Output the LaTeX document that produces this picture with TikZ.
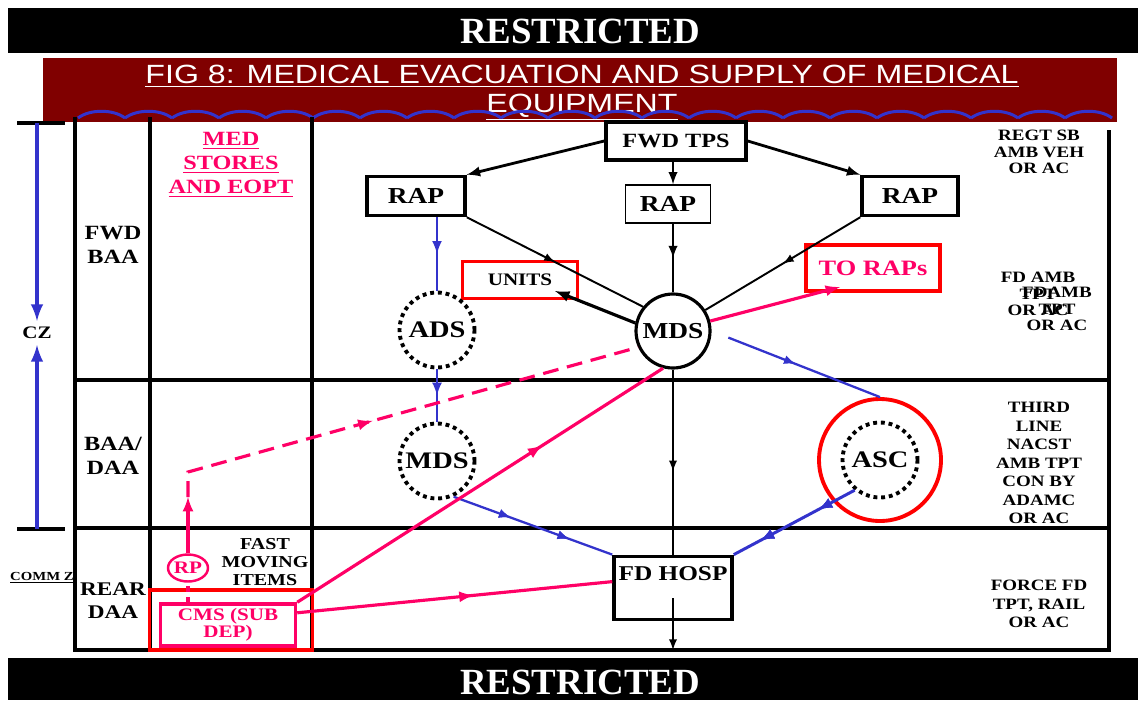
\documentclass[tikz,border=0pt]{standalone}
\usepackage{fontspec}
\setmainfont[FakeStretch=1.2]{Liberation Serif}
\newfontfamily\bannerfont{Liberation Serif}
\newfontfamily\titlefont[FakeStretch=1.22]{Liberation Sans}
\usepackage{tikz}
\usetikzlibrary{shapes,arrows,positioning,decorations.markings}
\definecolor{bannerred}{RGB}{128,0,0}
\definecolor{medpink}{RGB}{255,0,102}
\definecolor{evacblue}{RGB}{51,51,204}
\tikzstyle{tabline} = [line width=2.3pt]
\tikzstyle{banner} = [text=white, font=\bannerfont\bfseries\fontsize{21}{23}\selectfont]
\tikzstyle{figtitle} = [text=white, align=center, font=\titlefont\fontsize{15}{16}\selectfont]
\tikzstyle{bigbox} = [draw, line width=2pt, rectangle, inner sep=2pt, font=\bfseries\fontsize{13}{15}\selectfont]
\tikzstyle{thinbox} = [draw, line width=0.8pt, rectangle, inner sep=2pt, font=\bfseries\fontsize{13}{15}\selectfont]
\tikzstyle{redbox} = [draw=red, line width=2pt, rectangle, inner sep=2pt]
\tikzstyle{mdscircle} = [draw, circle, line width=1.8pt, minimum size=1.48cm, inner sep=0pt, font=\bfseries\fontsize{13}{15}\selectfont]
\tikzstyle{dotcircle} = [draw, circle, line width=2.2pt, dash pattern=on 2.2pt off 2.2pt, minimum size=1.5cm, inner sep=0pt, font=\bfseries\fontsize{13.5}{15}\selectfont]
\tikzstyle{rowlabel} = [align=center, font=\bfseries\fontsize{11.5}{13.6}\selectfont]
\tikzstyle{note} = [align=center, font=\bfseries\fontsize{9}{9.4}\selectfont]
\tikzstyle{evac} = [line width=1.1pt]
\tikzstyle{bluepath} = [evacblue, line width=1.3pt]
\tikzstyle{supply} = [medpink, line width=1.8pt]
\tikzstyle{czarrow} = [evacblue, line width=2.2pt, -latex]
\tikzstyle{wave} = [evacblue, line width=1.7pt]
\tikzset{midarrow/.style={postaction={decorate}, decoration={markings, mark=at position #1 with {\arrow{latex}}}},
  midarrow/.default=0.5}
\begin{document}
\begin{tikzpicture}[x=0.02cm, y=-0.02cm]
\useasboundingbox (0,0) rectangle (1138,700);
% banners
\fill[black] (8,8) rectangle (1138,53);
\node[banner] (toprestr) at (580,31) {RESTRICTED};
\fill[bannerred] (43,58) rectangle (1117,122);
\node[figtitle] (title) at (582,93) {\underline{FIG 8: MEDICAL EVACUATION AND SUPPLY OF MEDICAL}\\\underline{EQUIPMENT}};
\foreach \i in {0,...,21}
  \draw[wave] ({78+47*\i},118) .. controls ({90+47*\i},109) and ({113+47*\i},109) .. ({125+47*\i},118);
\fill[black] (8,658) rectangle (1138,700);
\node[banner] (botrestr) at (580,682) {RESTRICTED};
% table
\draw[tabline] (75,117) -- (75,651);
\draw[tabline] (150,117) -- (150,651);
\draw[tabline] (312,117) -- (312,651);
\draw[tabline] (1109,130) -- (1109,651);
\draw[tabline] (75,380) -- (1109,380);
\draw[tabline] (75,528) -- (1109,528);
\draw[tabline] (73,650) -- (1111,650);
% comm zone
\draw[tabline] (17,123) -- (65,123);
\draw[tabline] (17,529) -- (65,529);
\coordinate (cztop) at (37,123);
\coordinate (czbot) at (37,529);
\node[font=\bfseries\fontsize{10}{12}\selectfont] (cz) at (37,333) {CZ};
\draw[czarrow] (cztop) -- (cz.north);
\draw[czarrow] (czbot) -- (cz.south);
\node[font=\bfseries\fontsize{7}{8}\selectfont] (commz) at (42,578) {\underline{COMM Z}};
% row labels
\node[rowlabel] (fwdbaa) at (113,245) {FWD\\BAA};
\node[rowlabel] (baadaa) at (113,456) {BAA/\\DAA};
\node[rowlabel, font=\bfseries\fontsize{11}{13}\selectfont] (reardaa) at (113,601) {REAR\\DAA};
\node[rowlabel, text=medpink] (medstores) at (231,165) {\underline{MED}\\\underline{STORES}\\\underline{AND EOPT}};
\node[note, font=\bfseries\fontsize{9.5}{10}\selectfont] (fastitems) at (265,562) {FAST\\MOVING\\ITEMS};
% transport notes
\node[note] (regtsb) at (1039,152) {REGT SB\\AMB VEH\\OR AC};
\node[note] (fdamb) at (1038,294) {FD AMB\\TPT\\OR AC};
\node[note] (fdambb) at (1057,309) {FDAMB\\TPT\\OR AC};
\node[note, font=\bfseries\fontsize{9}{10.5}\selectfont] (thirdline) at (1039,463) {THIRD\\LINE\\NACST\\AMB TPT\\CON BY\\ADAMC\\OR AC};
\node[note, font=\bfseries\fontsize{9}{10.5}\selectfont] (forcefd) at (1039,604) {FORCE FD\\TPT, RAIL\\OR AC};
% posts
\node[bigbox, minimum width=2.8cm, minimum height=0.76cm, font=\bfseries\fontsize{11.5}{13}\selectfont] (fwdtps) at (676,141) {FWD TPS};
\node[bigbox, minimum width=1.96cm, minimum height=0.78cm] (rapl) at (416,196) {RAP};
\node[thinbox, minimum width=1.7cm, minimum height=0.76cm] (rapc) at (668,204) {RAP};
\node[bigbox, minimum width=1.92cm, minimum height=0.78cm] (rapr) at (910,196) {RAP};
\node[redbox, minimum width=2.3cm, minimum height=0.74cm, font=\bfseries\fontsize{10}{12}\selectfont] (units) at (520,280) {UNITS};
\node[redbox, text=medpink, minimum width=2.68cm, minimum height=0.92cm, font=\bfseries\fontsize{12.5}{14}\selectfont] (torap) at (873,268) {TO RAPs};
\node[mdscircle] (mdsf) at (673,331) {MDS};
\node[dotcircle] (ads) at (437,330) {ADS};
\node[dotcircle] (mdsb) at (437,461) {MDS};
\node[draw=red, circle, line width=2.2pt, minimum size=2.44cm] (ascring) at (880,460) {};
\node[dotcircle] (asc) at (880,460) {ASC};
\node[bigbox, minimum width=2.36cm, minimum height=1.26cm, inner ysep=5pt, text height=9pt, text depth=17pt, font=\bfseries\fontsize{12}{14}\selectfont] (fdhosp) at (673,588) {FD HOSP};
\node[redbox, line width=2.2pt, minimum width=3.26cm, minimum height=1.2cm] (cmsframe) at (231,620) {};
\node[draw=medpink, line width=2pt, text=medpink, align=center, minimum width=2.7cm, minimum height=0.84cm, inner sep=1pt, font=\bfseries\fontsize{10}{9.5}\selectfont] (cms) at (228,625) {CMS (SUB\\DEP)};
\node[draw=medpink, ellipse, line width=1.4pt, text=medpink, minimum width=0.8cm, minimum height=0.54cm, inner sep=0pt, font=\bfseries\fontsize{10}{12}\selectfont] (rp) at (188,568) {RP};
% evacuation
\draw[-latex, line width=1.6pt] (fwdtps.west) -- (rapl.north east);
\draw[-latex, line width=1.4pt] (fwdtps.south -| mdsf.north) -- (rapc.north -| mdsf.north);
\draw[-latex, line width=1.6pt] (fwdtps.east) -- (rapr.north west);
\draw[evac, midarrow] (rapl.south east) -- (mdsf.141);
\draw[evac, line width=1.4pt, midarrow] (rapc.south -| mdsf.north) -- (mdsf.north);
\draw[evac, midarrow] (rapr.south west) -- (mdsf.33);
\coordinate (unitsin) at (555,291);
\draw[-latex, line width=1.8pt] (mdsf.168) -- (unitsin);
\draw[evac, midarrow=0.55] (mdsf.south) -- (fdhosp.north);
\coordinate (tabbot) at (673,650);
\draw[-latex, line width=1.1pt] ([yshift=-0.2cm]fdhosp.center) -- (tabbot);
\draw[bluepath, line width=1.5pt, midarrow] (rapl.south -| ads.north) -- (ads.north);
\draw[bluepath, line width=1.5pt, midarrow] (ads.south) -- (mdsb.north);
\draw[bluepath, midarrow, shorten <=0.36cm] (mdsf.east) -- (ascring.north);
\draw[bluepath, midarrow=0.36, midarrow=0.73] (mdsb.-65) -- (fdhosp.north west);
\draw[bluepath, line width=1.7pt, midarrow=0.3, midarrow=0.78] (asc.-130) -- (fdhosp.north east);
% supply
\coordinate (torapin) at (840,287);
\draw[supply, -latex] (mdsf.15) -- (torapin);
\draw[supply, midarrow=0.67] (cms.north east) -- (mdsf.255);
\draw[supply, midarrow=0.56] (cms.10) -- (fdhosp.174);
\draw[supply, dash pattern=on 3pt off 3pt] (cms.north -| rp.south) -- (rp.south);
\coordinate (rpup) at (188,497);
\coordinate (rpbend) at (188,472);
\draw[supply, -latex] (rp.north) -- (rpup);
\draw[supply, dash pattern=on 9pt off 5pt, midarrow=0.44] (rpup) -- (rpbend) -- (mdsf.205);
\end{tikzpicture}
\end{document}
